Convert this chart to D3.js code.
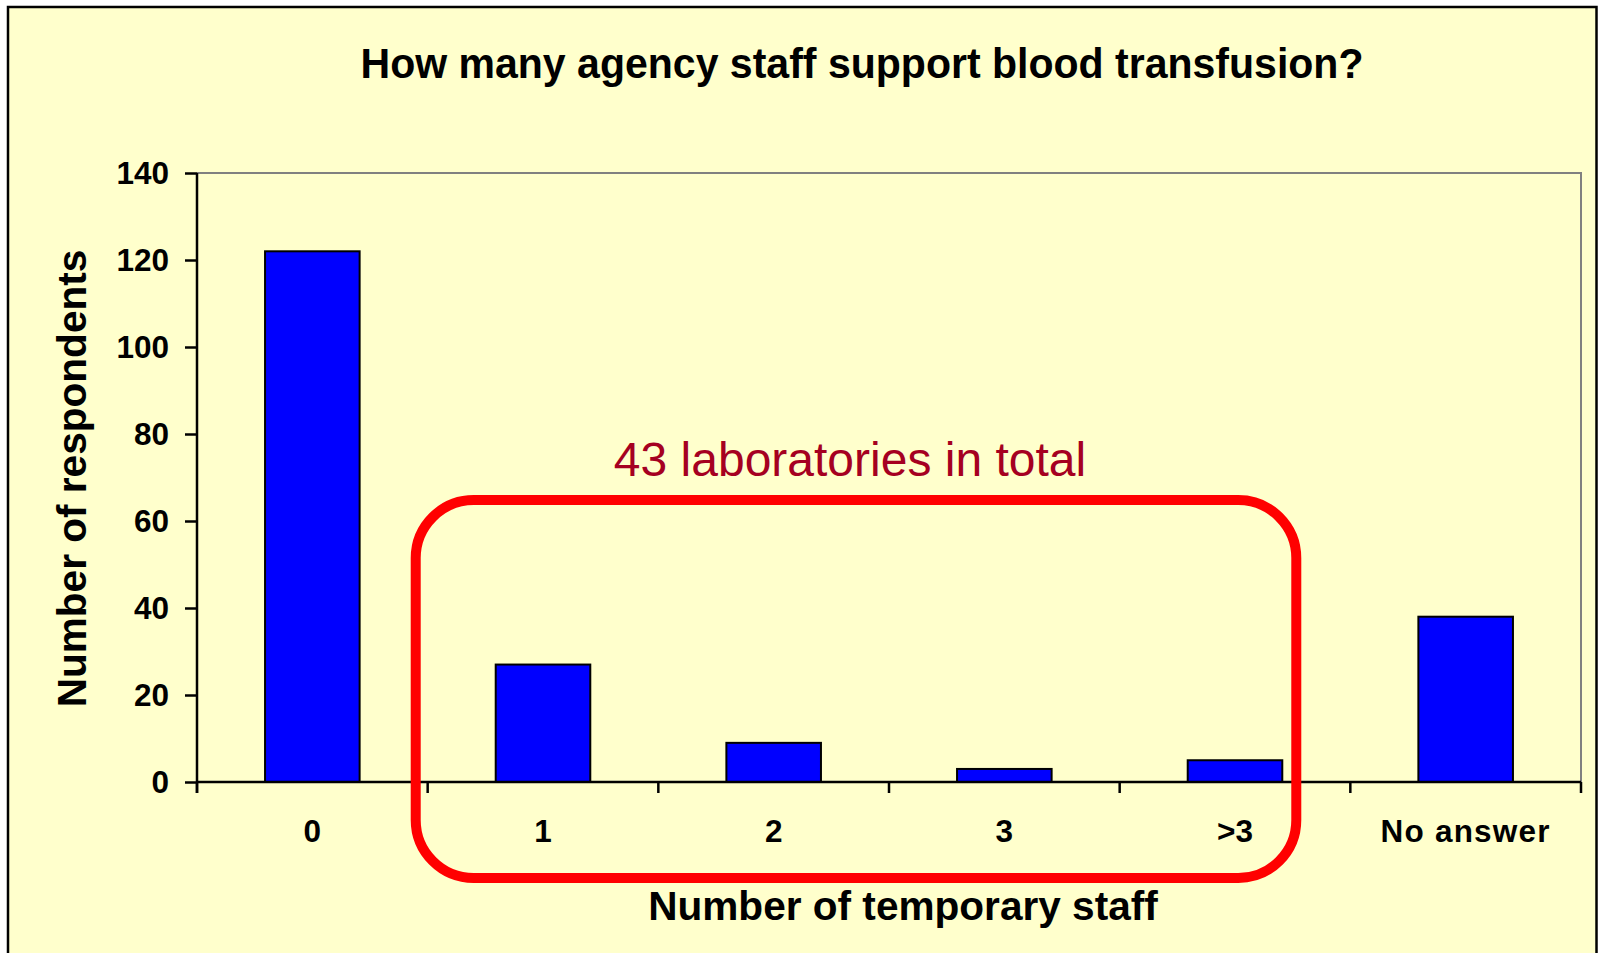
<!DOCTYPE html>
<html>
<head>
<meta charset="utf-8">
<script src="https://cdn.jsdelivr.net/npm/d3@7"></script>
<style>
    body { margin: 0; background: #ffffff; }
    svg { display: block; }
    text { font-family: Arial, "Liberation Sans", sans-serif; }
</style>
</head>
<body>
<div id="grafico"></div>
<script>
// dados
var categorias = ["0", "1", "2", "3", ">3", "No answer"];
var respondentes = [122, 27, 9, 3, 5, 38];
var ticksY = [0, 20, 40, 60, 80, 100, 120, 140];

var titulo = "How many agency staff support blood transfusion?";
var tituloX = "Number of temporary staff";
var tituloY = "Number of respondents";
var nota = "43 laboratories in total";

var largura = 1598, altura = 953;
var margem = {top: 173, right: 17, bottom: 171, left: 197};

var svg = d3.select("#grafico")
    .append("svg")
    .attr("width", largura)
    .attr("height", altura);

// fundo amarelo com borda
svg.append("rect")
    .attr("x", 8).attr("y", 7)
    .attr("width", largura - 9.5).attr("height", altura + 20)
    .attr("fill", "#ffffcc")
    .attr("stroke", "#000")
    .attr("stroke-width", 2.5);

var x = d3.scaleBand()
    .domain(categorias)
    .range([margem.left, largura - margem.right])
    .paddingInner(0.59)
    .paddingOuter(0.295);

var y = d3.scaleLinear()
    .domain([0, 140])
    .range([altura - margem.bottom, margem.top]);

// borda cinza do plot (topo e direita)
svg.append("path")
    .attr("d", "M" + margem.left + "," + y(140) + "H" + (largura - margem.right) + "V" + y(0))
    .attr("fill", "none")
    .attr("stroke", "#808080")
    .attr("stroke-width", 2);

// barras
svg.selectAll(".barra")
    .data(respondentes)
    .enter()
    .append("rect")
    .attr("class", "barra")
    .attr("x", function(d, i) { return x(categorias[i]); })
    .attr("y", function(d) { return y(d); })
    .attr("width", x.bandwidth())
    .attr("height", function(d) { return y(0) - y(d); })
    .attr("fill", "#0000ff")
    .attr("stroke", "#000")
    .attr("stroke-width", 2);

// eixo Y
var eixoY = svg.append("g")
    .attr("transform", "translate(" + margem.left + ",0)")
    .call(d3.axisLeft(y).tickValues(ticksY).tickSize(12).tickPadding(16));
eixoY.select(".domain").attr("stroke-width", 2.5).attr("d", "M0," + y(140) + "V" + (y(0) + 11));
eixoY.selectAll(".tick line").attr("stroke-width", 2.5);
eixoY.selectAll(".tick text")
    .attr("font-size", 31.5)
    .attr("font-weight", "bold")
    .attr("fill", "#000")
    .attr("font-family", "Arial, 'Liberation Sans', sans-serif");

// eixo X: linha e ticks entre as categorias
var passo = x.step();
var limites = d3.range(categorias.length + 1).map(function(i) { return margem.left + i * passo; });
svg.append("line")
    .attr("x1", margem.left).attr("x2", largura - margem.right)
    .attr("y1", y(0)).attr("y2", y(0))
    .attr("stroke", "#000").attr("stroke-width", 2.5);
svg.selectAll(".tickX")
    .data(limites)
    .enter()
    .append("line")
    .attr("class", "tickX")
    .attr("x1", function(d) { return d; }).attr("x2", function(d) { return d; })
    .attr("y1", y(0)).attr("y2", y(0) + 11)
    .attr("stroke", "#000").attr("stroke-width", 2.5);

svg.selectAll(".rotuloX")
    .data(categorias)
    .enter()
    .append("text")
    .attr("class", "rotuloX")
    .attr("x", function(d) { return x(d) + x.bandwidth() / 2; })
    .attr("y", y(0) + 60)
    .attr("text-anchor", "middle")
    .attr("font-size", 31.5)
    .attr("font-weight", "bold")
    .attr("letter-spacing", function(d) { return d == "No answer" ? 1.2 : 0; })
    .text(function(d) { return d; });

// titulos
svg.append("text")
    .attr("x", 862).attr("y", 78)
    .attr("text-anchor", "middle")
    .attr("font-size", 43)
    .attr("font-weight", "bold")
    .attr("textLength", 1003)
    .attr("lengthAdjust", "spacingAndGlyphs")
    .text(titulo);

svg.append("text")
    .attr("x", 903).attr("y", 920)
    .attr("text-anchor", "middle")
    .attr("font-size", 40.6)
    .attr("font-weight", "bold")
    .text(tituloX);

svg.append("text")
    .attr("transform", "translate(86," + ((y(0) + y(140)) / 2 + 1) + ") rotate(-90)")
    .attr("text-anchor", "middle")
    .attr("font-size", 40.6)
    .attr("font-weight", "bold")
    .text(tituloY);

// caixa vermelha em volta de 1, 2, 3, >3
var xEsq = x("1") - 80;
var xDir = x(">3") + x.bandwidth() + 14;
svg.append("rect")
    .attr("x", xEsq)
    .attr("y", y(64.8))
    .attr("width", xDir - xEsq)
    .attr("height", y(0) + 96 - y(64.8))
    .attr("rx", 58).attr("ry", 58)
    .attr("fill", "none")
    .attr("stroke", "#ff0000")
    .attr("stroke-width", 10);

svg.append("text")
    .attr("x", 850).attr("y", 476)
    .attr("text-anchor", "middle")
    .attr("font-size", 48)
    .attr("fill", "#a50021")
    .text(nota);
</script>
</body>
</html>
